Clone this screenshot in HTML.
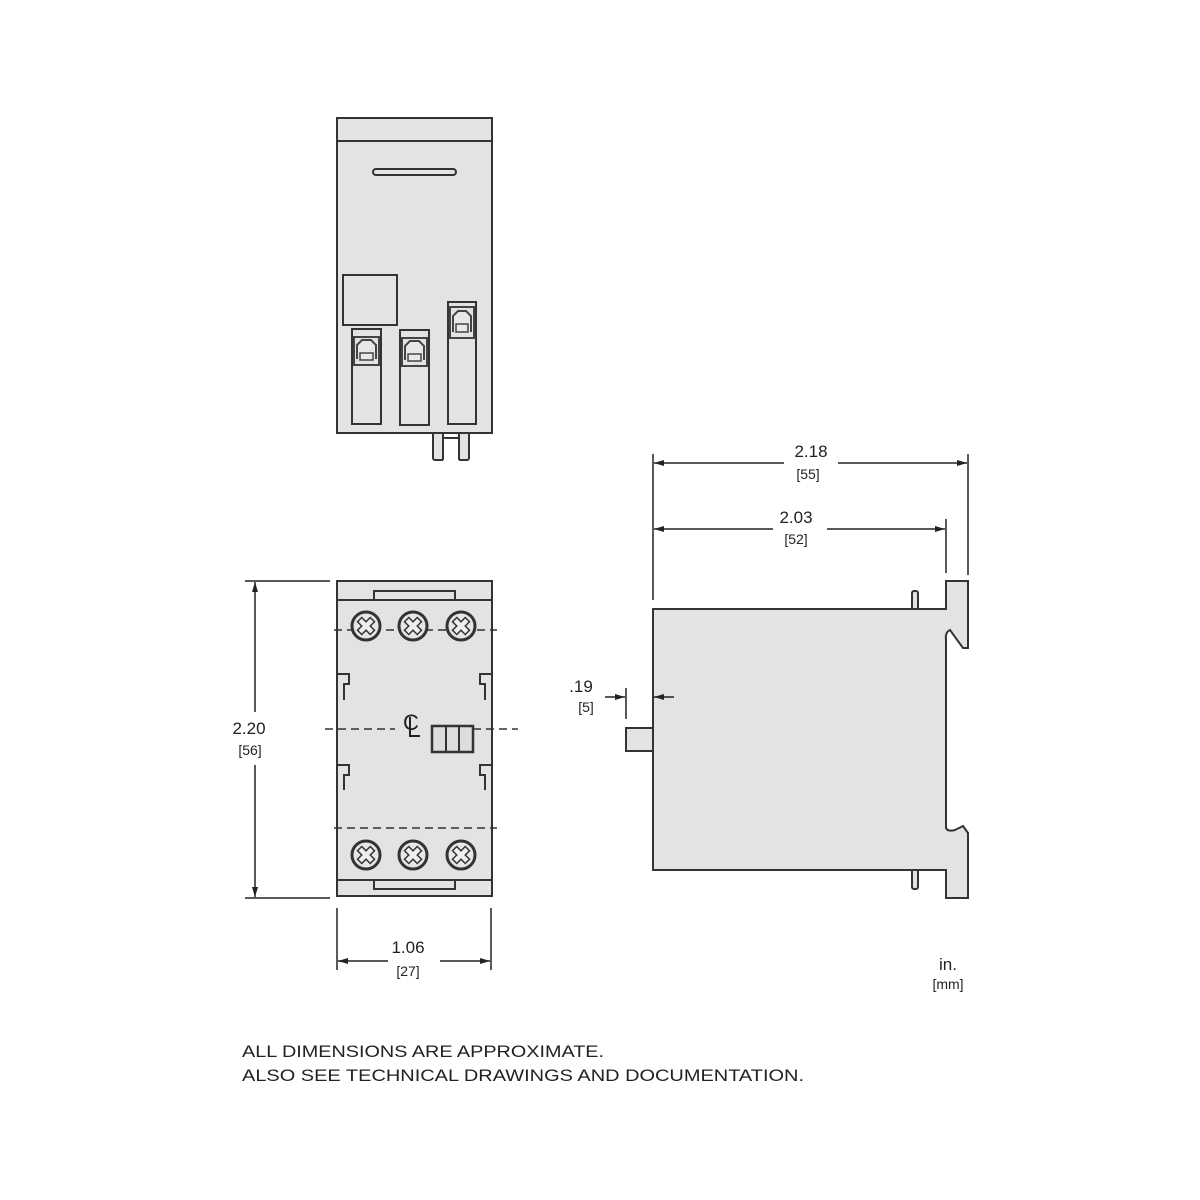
<!DOCTYPE html>
<html><head><meta charset="utf-8"><style>
html,body{margin:0;padding:0;background:#fff;}
svg{display:block;}
text{font-family:"Liberation Sans",sans-serif;fill:#222;}
</style></head><body>
<svg width="1200" height="1200" viewBox="0 0 1200 1200" xmlns="http://www.w3.org/2000/svg">
<defs>
<marker id="ar" viewBox="0 0 10 6" refX="10" refY="3" markerWidth="10" markerHeight="6" orient="auto-start-reverse" markerUnits="userSpaceOnUse">
<path d="M0,0 L10,3 L0,6 z" fill="#222"/></marker>
<g id="term">
<rect x="0" y="0" width="29" height="95" fill="#e3e3e3" stroke="#333" stroke-width="2"/>
<line x1="0" y1="8" x2="29" y2="8" stroke="#333" stroke-width="2"/>
<rect x="2" y="8" width="25" height="28" fill="#e3e3e3" stroke="#444" stroke-width="2"/>
<path d="M5,30 L5,16 L10,11 L19,11 L24,16 L24,30" fill="#e8e8e8" stroke="#444" stroke-width="2"/>
<rect x="8" y="24" width="13" height="7" fill="#e8e8e8" stroke="#444" stroke-width="1.5"/>
</g>
<g id="screw">
<circle r="14" fill="#e6e6e6" stroke="#333" stroke-width="3"/>
<path d="M-3,-9 L3,-9 L3,-3 L9,-3 L9,3 L3,3 L3,9 L-3,9 L-3,3 L-9,3 L-9,-3 L-3,-3 Z" transform="rotate(45)" fill="#eee" stroke="#333" stroke-width="1.5"/>
</g>
</defs>

<!-- TOP VIEW -->
<g stroke="#333" stroke-width="2" fill="#e3e3e3">
<rect x="433" y="425" width="36" height="35" rx="2"/>
<rect x="337" y="118" width="155" height="315"/>
<line x1="337" y1="141" x2="492" y2="141"/>
<rect x="373" y="169" width="83" height="6" rx="3"/>
<rect x="343" y="275" width="54" height="50"/>
</g>
<rect x="443" y="434" width="16" height="30" fill="#fff"/>
<path d="M443,434 V460 M459,434 V460 M443,438 H459" stroke="#333" stroke-width="2" fill="none"/>
<use href="#term" x="352" y="329"/>
<use href="#term" x="400" y="330"/>
<g transform="translate(448,302)">
<rect x="0" y="0" width="28" height="122" fill="#e3e3e3" stroke="#333" stroke-width="2"/>
<line x1="0" y1="5" x2="28" y2="5" stroke="#333" stroke-width="2"/>
<rect x="2" y="5" width="24" height="31" fill="#e3e3e3" stroke="#444" stroke-width="2"/>
<path d="M5,30 L5,14 L10,9 L18,9 L23,14 L23,30" fill="#e8e8e8" stroke="#444" stroke-width="2"/>
<rect x="8" y="22" width="12" height="8" fill="#e8e8e8" stroke="#444" stroke-width="1.5"/>
</g>

<!-- FRONT VIEW -->
<g stroke="#333" stroke-width="2" fill="#e3e3e3">
<rect x="337" y="581" width="155" height="315"/>
<line x1="337" y1="600" x2="492" y2="600"/>
<line x1="337" y1="880" x2="492" y2="880"/>
<path d="M374,600 V591 H455 V600" fill="none"/>
<path d="M374,880 V889 H455 V880" fill="none"/>
<path d="M337,674 H349 V684 H344 V700" fill="none"/>
<path d="M337,765 H349 V775 H344 V790" fill="none"/>
<path d="M492,674 H480 V684 H485 V700" fill="none"/>
<path d="M492,765 H480 V775 H485 V790" fill="none"/>
</g>
<g stroke="#333" stroke-width="1.5" stroke-dasharray="8,5" fill="none">
<line x1="334" y1="630" x2="497" y2="630"/>
<line x1="334" y1="828" x2="497" y2="828"/>
<line x1="325" y1="729" x2="395" y2="729"/>
<line x1="473" y1="729" x2="518" y2="729"/>
</g>
<use href="#screw" x="366" y="626"/>
<use href="#screw" x="413" y="626"/>
<use href="#screw" x="461" y="626"/>
<use href="#screw" x="366" y="855"/>
<use href="#screw" x="413" y="855"/>
<use href="#screw" x="461" y="855"/>
<rect x="432" y="726" width="41" height="26" fill="#ddd" stroke="#333" stroke-width="2.5"/>
<line x1="446" y1="727" x2="446" y2="751" stroke="#333" stroke-width="2"/>
<line x1="459" y1="727" x2="459" y2="751" stroke="#333" stroke-width="2"/>
<text x="403" y="730" font-size="22">C</text>
<path d="M410,717 V736 H420" stroke="#222" stroke-width="2" fill="none"/>

<!-- SIDE VIEW -->
<g stroke="#333" stroke-width="2" fill="#e3e3e3">
<rect x="912" y="591" width="6" height="24" rx="2"/>
<rect x="912" y="864" width="6" height="25" rx="2"/>
<rect x="626" y="728" width="30" height="23"/>
<path d="M653,609 H946 V581 H968 V648 H963 L950,630 Q945,632 946,640 V828 Q948,832 955,830 L963,826 L968,833 V898 H946 V870 H653 Z"/>
</g>

<!-- DIMENSIONS -->
<g stroke="#222" stroke-width="1.5" fill="none">
<line x1="653" y1="454" x2="653" y2="600"/>
<line x1="968" y1="454" x2="968" y2="575"/>
<line x1="946" y1="519" x2="946" y2="573"/>
<line x1="654" y1="463" x2="784" y2="463" marker-start="url(#ar)"/>
<line x1="838" y1="463" x2="967" y2="463" marker-end="url(#ar)"/>
<line x1="654" y1="529" x2="773" y2="529" marker-start="url(#ar)"/>
<line x1="827" y1="529" x2="945" y2="529" marker-end="url(#ar)"/>
<line x1="626" y1="688" x2="626" y2="719"/>
<line x1="605" y1="697" x2="625" y2="697" marker-end="url(#ar)"/>
<line x1="674" y1="697" x2="654" y2="697" marker-end="url(#ar)"/>
<line x1="245" y1="581" x2="330" y2="581"/>
<line x1="245" y1="898" x2="330" y2="898"/>
<line x1="255" y1="582" x2="255" y2="712" marker-start="url(#ar)"/>
<line x1="255" y1="765" x2="255" y2="897" marker-end="url(#ar)"/>
<line x1="337" y1="908" x2="337" y2="970"/>
<line x1="491" y1="908" x2="491" y2="970"/>
<line x1="338" y1="961" x2="388" y2="961" marker-start="url(#ar)"/>
<line x1="440" y1="961" x2="490" y2="961" marker-end="url(#ar)"/>
</g>
<g text-anchor="middle">
<text x="811" y="457" font-size="17">2.18</text>
<text x="808" y="479" font-size="14">[55]</text>
<text x="796" y="523" font-size="17">2.03</text>
<text x="796" y="544" font-size="14">[52]</text>
<text x="581" y="692" font-size="17">.19</text>
<text x="586" y="712" font-size="14">[5]</text>
<text x="249" y="734" font-size="17">2.20</text>
<text x="250" y="755" font-size="14">[56]</text>
<text x="408" y="953" font-size="17">1.06</text>
<text x="408" y="976" font-size="14">[27]</text>
<text x="948" y="970" font-size="17">in.</text>
<text x="948" y="989" font-size="14">[mm]</text>
</g>
<text x="242" y="1057" font-size="17" textLength="362" lengthAdjust="spacingAndGlyphs">ALL DIMENSIONS ARE APPROXIMATE.</text>
<text x="242" y="1081" font-size="17" textLength="562" lengthAdjust="spacingAndGlyphs">ALSO SEE TECHNICAL DRAWINGS AND DOCUMENTATION.</text>
</svg>
</body></html>
